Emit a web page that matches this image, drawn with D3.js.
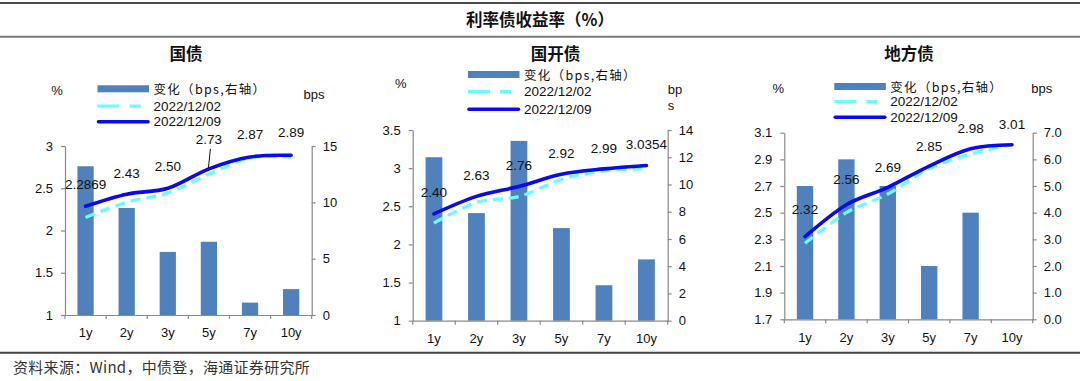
<!DOCTYPE html>
<html><head><meta charset="utf-8">
<script src="https://cdn.jsdelivr.net/npm/d3@7"></script>
<style>
html,body{margin:0;padding:0;background:#fff;}
svg{display:block;}
</style></head>
<body>
<svg id="chart" width="1080" height="381"></svg>
<script>
// ---------- data ----------
const categories = ["1y", "2y", "3y", "5y", "7y", "10y"];

const gzChange = [13.2, 9.5, 5.6, 6.5, 1.1, 2.3];
const gz1202 = [2.155, 2.335, 2.444, 2.665, 2.859, 2.867];
const gz1209 = [2.2869, 2.43, 2.50, 2.73, 2.87, 2.89];
const gzLabels = ["2.2869", "2.43", "2.50", "2.73", "2.87", "2.89"];

const gkChange = [12.0, 7.9, 13.2, 6.8, 2.6, 4.5];
const gk1202 = [2.28, 2.551, 2.628, 2.852, 2.964, 2.99];
const gk1209 = [2.40, 2.63, 2.76, 2.92, 2.99, 3.0354];
const gkLabels = ["2.40", "2.63", "2.76", "2.92", "2.99", "3.0354"];

const dfChange = [5.0, 6.0, 5.0, 2.0, 4.0, 0];
const df1202 = [2.27, 2.50, 2.64, 2.83, 2.94, 3.01];
const df1209 = [2.32, 2.56, 2.69, 2.85, 2.98, 3.01];
const dfLabels = ["2.32", "2.56", "2.69", "2.85", "2.98", "3.01"];

const gzLeftTicks = [1, 1.5, 2, 2.5, 3];
const gzRightTicks = [0, 5, 10, 15];
const gkLeftTicks = [1, 1.5, 2, 2.5, 3, 3.5];
const gkRightTicks = [0, 2, 4, 6, 8, 10, 12, 14];
const dfLeftTicks = [1.7, 1.9, 2.1, 2.3, 2.5, 2.7, 2.9, 3.1];
const dfRightTicks = [0, 1, 2, 3, 4, 5, 6, 7];

const legendNames = ["变化（bps,右轴）", "2022/12/02", "2022/12/09"];
const mainTitle = "利率债收益率（%）";
const panelTitles = ["国债", "国开债", "地方债"];
const sourceText = "资料来源：Wind，中债登，海通证券研究所";

// ---------- style ----------
const BAR = "#4F81BD", DASH = "#66FFFF", SOLID = "#0A0AF0", AXIS = "#898989";
const LATIN = "'Liberation Sans', Arial, sans-serif";
const CJK = "'Noto Sans CJK SC', sans-serif";

const svg = d3.select("#chart");

// header / footer
svg.append("line").attr("x1", 0).attr("x2", 1080).attr("y1", 3).attr("y2", 3)
  .attr("stroke", "#111").attr("stroke-width", 1.5);
svg.append("line").attr("x1", 0).attr("x2", 1080).attr("y1", 36.8).attr("y2", 36.8)
  .attr("stroke", "#7a7a7a").attr("stroke-width", 2);
svg.append("text").attr("x", 540).attr("y", 19).attr("text-anchor", "middle")
  .attr("dominant-baseline", "central").attr("font-family", CJK).attr("font-weight", "bold")
  .attr("font-size", 16.5).attr("fill", "#111").text(mainTitle);
svg.append("line").attr("x1", 0).attr("x2", 1080).attr("y1", 352.8).attr("y2", 352.8)
  .attr("stroke", "#444").attr("stroke-width", 2);
svg.append("text").attr("x", 13).attr("y", 366).attr("dominant-baseline", "central")
  .attr("font-family", CJK).attr("font-size", 15).attr("letter-spacing", 0.3)
  .attr("fill", "#333").text(sourceText);

const panels = [
  { title: panelTitles[0], titleX: 186, change: gzChange, v02: gz1202, v09: gz1209, labels: gzLabels,
    x0: 65, x1: 311.7, yTop: 146, yBot: 315, left: [1, 3], leftTicks: gzLeftTicks, leftFmt: d3.format(""),
    right: [0, 15], rightTicks: gzRightTicks, rightFmt: d3.format(""),
    labelDy: [21.5, 21, 22, 29, 22, 22.5], leader: 3,
    legX: 97.5, legY: [88.8, 106, 121.7], pct: [57, 90], unit: [{x: 314, y: 94, t: "bps", a: "middle"}] },
  { title: panelTitles[1], titleX: 555.5, change: gkChange, v02: gk1202, v09: gk1209, labels: gkLabels,
    x0: 412.7, x1: 667.7, yTop: 130, yBot: 320.7, left: [1, 3.5], leftTicks: gkLeftTicks, leftFmt: d3.format(""),
    right: [0, 14], rightTicks: gkRightTicks, rightFmt: d3.format(""),
    labelDy: [21, 20.5, 20.5, 20.5, 20.5, 20.5], leader: -1,
    legX: 468, legY: [74.5, 91.7, 109.3], pct: [400.7, 83.3],
    unit: [{x: 667.7, y: 89.3, t: "bp", a: "start"}, {x: 667.7, y: 105, t: "s", a: "start"}] },
  { title: panelTitles[2], titleX: 909, change: dfChange, v02: df1202, v09: df1209, labels: dfLabels,
    x0: 784.3, x1: 1032.7, yTop: 132.7, yBot: 319.3, left: [1.7, 3.1], leftTicks: dfLeftTicks, leftFmt: d3.format(".1f"),
    right: [0, 7], rightTicks: dfRightTicks, rightFmt: d3.format(".1f"),
    labelDy: [27.5, 25.5, 20, 19.5, 20.5, 20.5], leader: -1,
    legX: 834.3, legY: [86.5, 101.7, 117.3], pct: [778.3, 88.3],
    unit: [{x: 1041.7, y: 88.3, t: "bps", a: "middle"}] }
];

panels.forEach(p => {
  const g = svg.append("g");
  const x = d3.scaleBand().domain(categories).range([p.x0, p.x1]).padding(0);
  const yL = d3.scaleLinear().domain(p.left).range([p.yBot, p.yTop]);
  const yR = d3.scaleLinear().domain(p.right).range([p.yBot, p.yTop]);
  const cx = c => x(c) + x.bandwidth() / 2;

  // title
  g.append("text").attr("x", p.titleX).attr("y", 53).attr("text-anchor", "middle")
    .attr("dominant-baseline", "central").attr("font-family", CJK).attr("font-weight", "bold")
    .attr("font-size", 16.5).attr("fill", "#111").text(p.title);

  // bars
  const bw = x.bandwidth() * 0.395;
  g.selectAll("rect.bar").data(p.change).join("rect")
    .attr("x", (d, i) => cx(categories[i]) - bw / 2)
    .attr("width", bw)
    .attr("y", d => yR(d))
    .attr("height", d => yR(0) - yR(d))
    .attr("fill", BAR);

  // axes
  const styleAxis = sel => {
    sel.selectAll("path.domain").attr("stroke", AXIS).attr("stroke-width", 1.2);
    sel.selectAll(".tick line").attr("stroke", AXIS).attr("stroke-width", 1.2);
    sel.selectAll(".tick text").attr("font-family", LATIN).attr("font-size", 13).attr("fill", "#111");
  };
  g.append("g").attr("transform", `translate(${p.x0},0)`)
    .call(d3.axisLeft(yL).tickValues(p.leftTicks).tickFormat(p.leftFmt).tickSizeInner(4).tickSizeOuter(0).tickPadding(8))
    .call(styleAxis);
  g.append("g").attr("transform", `translate(${p.x1},0)`)
    .call(d3.axisRight(yR).tickValues(p.rightTicks).tickFormat(p.rightFmt).tickSizeInner(4).tickSizeOuter(0).tickPadding(7))
    .call(styleAxis);
  const xa = g.append("g").attr("transform", `translate(0,${p.yBot})`)
    .call(d3.axisBottom(x).tickSize(0).tickPadding(13))
    .call(styleAxis);
  // boundary tick marks
  const bounds = categories.map(c => x(c)).concat([p.x1]);
  xa.selectAll("line.btick").data(bounds).join("line").attr("class", "btick")
    .attr("x1", d => d).attr("x2", d => d).attr("y1", 0).attr("y2", 4)
    .attr("stroke", AXIS).attr("stroke-width", 1.2);

  // lines
  const line = d3.line().x((d, i) => cx(categories[i])).y(d => yL(d)).curve(d3.curveCatmullRom.alpha(0));
  g.append("path").attr("d", line(p.v02)).attr("fill", "none").attr("stroke", DASH)
    .attr("stroke-width", 3.2).attr("stroke-dasharray", "10,6");
  g.append("path").attr("d", line(p.v09)).attr("fill", "none").attr("stroke", SOLID)
    .attr("stroke-width", 3.6).attr("stroke-linecap", "round");

  // data labels
  p.labels.forEach((t, i) => {
    const px = cx(categories[i]), py = yL(p.v09[i]);
    g.append("text").attr("x", px).attr("y", py - p.labelDy[i]).attr("text-anchor", "middle")
      .attr("dominant-baseline", "central").attr("font-family", LATIN).attr("font-size", 13.5)
      .attr("fill", "#111").text(t);
    if (i === p.leader) {
      g.append("line").attr("x1", px + 1.5).attr("y1", py - p.labelDy[i] + 9)
        .attr("x2", px - 0.5).attr("y2", py - 1).attr("stroke", "#111").attr("stroke-width", 1);
    }
  });

  // legend
  const L = p.legX;
  g.append("rect").attr("x", L).attr("y", p.legY[0] - 3.5).attr("width", 51.5).attr("height", 7).attr("fill", BAR);
  g.append("line").attr("x1", L).attr("x2", L + 43).attr("y1", p.legY[1]).attr("y2", p.legY[1])
    .attr("stroke", DASH).attr("stroke-width", 3.2).attr("stroke-dasharray", "22,10");
  g.append("line").attr("x1", L + 1).attr("x2", L + 50.5).attr("y1", p.legY[2]).attr("y2", p.legY[2])
    .attr("stroke", SOLID).attr("stroke-width", 3.6).attr("stroke-linecap", "round");
  legendNames.forEach((n, i) => {
    g.append("text").attr("x", L + 56).attr("y", p.legY[i]).attr("dominant-baseline", "central")
      .attr("font-family", i === 0 ? CJK : LATIN).attr("font-size", i === 0 ? 12.5 : 13.5)
      .attr("fill", "#111").attr("letter-spacing", i === 0 ? 1.3 : 0).text(n);
  });

  // unit labels
  g.append("text").attr("x", p.pct[0]).attr("y", p.pct[1]).attr("text-anchor", "middle")
    .attr("dominant-baseline", "central").attr("font-family", LATIN).attr("font-size", 13)
    .attr("fill", "#111").text("%");
  p.unit.forEach(u => {
    g.append("text").attr("x", u.x).attr("y", u.y).attr("text-anchor", u.a)
      .attr("dominant-baseline", "central").attr("font-family", LATIN).attr("font-size", 13)
      .attr("fill", "#111").text(u.t);
  });
});
</script>
</body></html>
